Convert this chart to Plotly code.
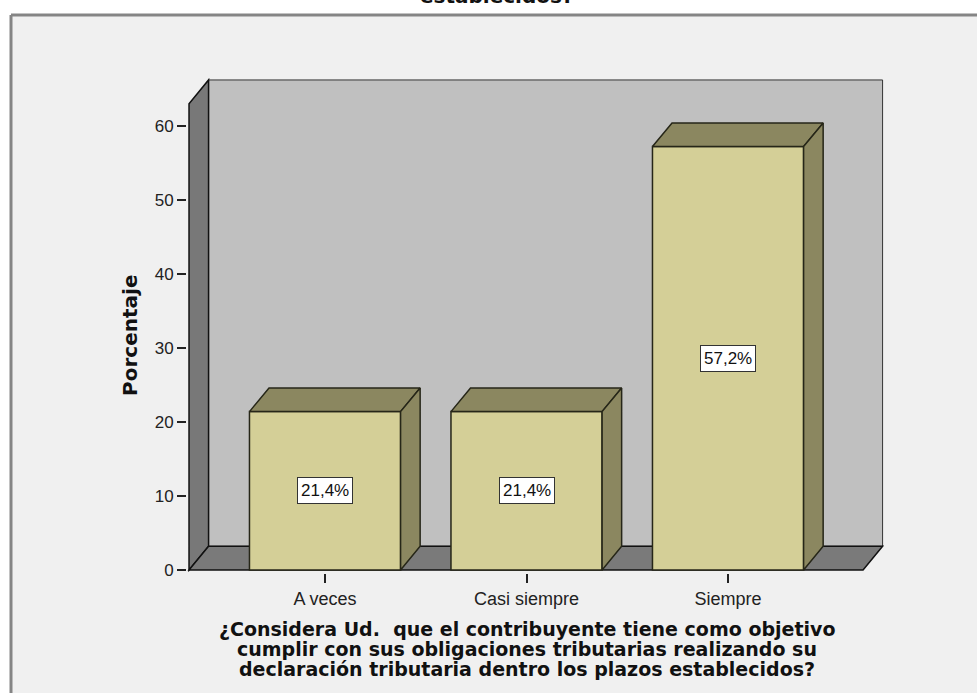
import plotly.graph_objects as go

# Survey answers and their percentages
categories = ["A veces", "Casi siempre", "Siempre"]
percentages = [21.4, 21.4, 57.2]
y_ticks = [0, 10, 20, 30, 40, 50, 60]

x_title_lines = [
    "¿Considera Ud.  que el contribuyente tiene como objetivo",
    "cumplir con sus obligaciones tributarias realizando su",
    "declaración tributaria dentro los plazos establecidos?",
]
top_title = "establecidos?"
y_title = "Porcentaje"

# Pseudo-3D geometry (data units)
BAR_W = 0.75
DX = 0.097          # depth offset along x
DY = 3.2            # depth offset along y
X_LEFT = -0.675     # front-left edge of the box
X_RIGHT = 2.67      # front-right edge of the floor
WALL_TOP = 66.2     # top of the back wall

FACE = "#d4cf97"
FACE_DARK = "#8b8760"
EDGE = "#262618"
BACK_WALL = "#c0c0c0"
SIDE_WALL = "#787878"
FLOOR = "#7a7a7a"

xs = list(range(len(categories)))

fig = go.Figure()

# Front faces of the bars
fig.add_trace(go.Bar(
    x=xs, y=percentages, width=BAR_W,
    marker=dict(color=FACE, line=dict(color=EDGE, width=1.5)),
    hoverinfo="skip", showlegend=False,
))

# Top and right-hand faces of each bar, derived from the values
for x, v in zip(xs, percentages):
    l, r = x - BAR_W / 2, x + BAR_W / 2
    top_x = [l, r, r + DX, l + DX, l]
    top_y = [v, v, v + DY, v + DY, v]
    side_x = [r, r, r + DX, r + DX, r]
    side_y = [0, v, v + DY, DY, 0]
    for px, py in ((top_x, top_y), (side_x, side_y)):
        fig.add_trace(go.Scatter(
            x=px, y=py, mode="lines", fill="toself",
            fillcolor=FACE_DARK, line=dict(color=EDGE, width=1.5),
            hoverinfo="skip", showlegend=False,
        ))

FRAME_X0, FRAME_Y1 = -0.2525, 1.125
shapes = [
    # outer chart frame: fill, then its top and left borders
    dict(type="rect", xref="paper", yref="paper",
         x0=FRAME_X0, x1=1.5, y0=-0.5, y1=FRAME_Y1,
         fillcolor="#f0f0f0", line=dict(width=0), layer="below"),
    dict(type="line", xref="paper", yref="paper",
         x0=FRAME_X0, x1=1.5, y0=FRAME_Y1, y1=FRAME_Y1,
         line=dict(color="#858585", width=3), layer="below"),
    dict(type="line", xref="paper", yref="paper",
         x0=FRAME_X0, x1=FRAME_X0, y0=-0.5, y1=FRAME_Y1,
         line=dict(color="#858585", width=3), layer="below"),
    # back wall
    dict(type="rect", xref="x", yref="y",
         x0=X_LEFT + DX, x1=X_RIGHT + DX, y0=DY, y1=WALL_TOP,
         fillcolor=BACK_WALL, line=dict(color="#333333", width=1),
         layer="below"),
    # left wall
    dict(type="path", xref="x", yref="y",
         path=(f"M {X_LEFT} 0 L {X_LEFT} {WALL_TOP - DY} "
               f"L {X_LEFT + DX} {WALL_TOP} L {X_LEFT + DX} {DY} Z"),
         fillcolor=SIDE_WALL, line=dict(color="#111111", width=1.5),
         layer="below"),
    # floor
    dict(type="path", xref="x", yref="y",
         path=(f"M {X_LEFT} 0 L {X_RIGHT} 0 L {X_RIGHT + DX} {DY} "
               f"L {X_LEFT + DX} {DY} Z"),
         fillcolor=FLOOR, line=dict(color="#111111", width=1.5),
         layer="below"),
]

annotations = []
# value labels in the middle of each bar
for x, v in zip(xs, percentages):
    annotations.append(dict(
        x=x, y=v / 2, xref="x", yref="y",
        text=f"{v:.1f}".replace(".", ",") + "%",
        showarrow=False, bgcolor="white", bordercolor="#333333",
        borderwidth=1, borderpad=3,
        font=dict(family="Liberation Sans, Arial", size=17, color="#111111"),
    ))

# x-axis title, one annotation per line for tight spacing
for i, line in enumerate(x_title_lines):
    annotations.append(dict(
        x=0.488, y=-0.113 - 0.0405 * i, xref="paper", yref="paper",
        text=line, showarrow=False, xanchor="center", yanchor="middle",
        font=dict(family="DejaVu Sans", size=19, color="#111111", weight="bold"),
    ))

# y-axis title
annotations.append(dict(
    x=-0.0818, y=0.48, xref="paper", yref="paper", text=y_title,
    textangle=-90, showarrow=False, xanchor="center", yanchor="middle",
    font=dict(family="DejaVu Sans", size=20, color="#111111", weight="bold"),
))

# last line of the chart title, mostly above the page
annotations.append(dict(
    x=0.445, y=1.163, xref="paper", yref="paper", text=top_title,
    showarrow=False, xanchor="center", yanchor="middle",
    font=dict(family="DejaVu Sans", size=20, color="#111111", weight="bold"),
))

fig.update_layout(
    width=977, height=693,
    margin=dict(l=187, r=93, t=77, b=120, pad=0),
    paper_bgcolor="white", plot_bgcolor="rgba(0,0,0,0)",
    shapes=shapes, annotations=annotations,
    bargap=0.25,
    xaxis=dict(
        range=[-0.685, 2.774], tickvals=xs, ticktext=categories,
        showgrid=False, zeroline=False, showline=False,
        ticks="outside", ticklen=9, tickwidth=1.5, tickcolor="#222222",
        tickfont=dict(family="Liberation Sans, Arial", size=18, color="#222222"),
        fixedrange=True,
    ),
    yaxis=dict(
        range=[-0.4, 66.6], tickvals=y_ticks,
        showgrid=False, zeroline=False, showline=False,
        ticks="outside", ticklen=9, tickwidth=1.5, tickcolor="#222222",
        tickfont=dict(family="Liberation Sans, Arial", size=17, color="#222222"),
        fixedrange=True,
    ),
)

fig.write_html("out.html")
